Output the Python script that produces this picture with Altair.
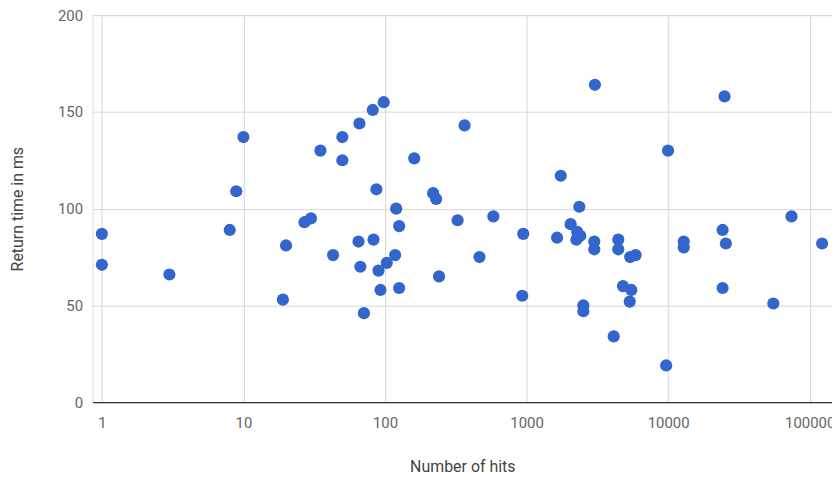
import altair as alt
import pandas as pd

hits = [1, 1, 3, 8, 8.9, 10,
        19, 20, 27, 30, 35, 43, 50, 50,
        65, 66, 67, 71, 82, 83, 87, 90, 93, 98, 103, 118, 120, 126, 126, 161,
        219, 230, 241, 326, 365, 465, 583, 933, 948,
        1644, 1745, 2050, 2280, 2400, 2250, 2360, 2520, 2520, 3010, 3010, 3040,
        4130, 4450, 4450, 4800, 5360, 5400, 5500, 5900,
        9700, 10000, 12900, 12900, 24270, 24270, 25060, 25600, 55400, 74500, 122500]
ms = [87, 71, 66, 89, 109, 137,
      53, 81, 93, 95, 130, 76, 137, 125,
      83, 144, 70, 46, 151, 84, 110, 68, 58, 155, 72, 76, 100, 91, 59, 126,
      108, 105, 65, 94, 143, 75, 96, 55, 87,
      85, 117, 92, 88, 86, 84, 101, 50, 47, 83, 79, 164,
      34, 84, 79, 60, 52, 75, 58, 76,
      19, 130, 83, 80, 89, 59, 158, 82, 51, 96, 82]

x_ticks = [1, 10, 100, 1000, 10000, 100000]
y_ticks = [0, 50, 100, 150, 200]

df = pd.DataFrame({"hits": hits, "ms": ms})

W, H = 743, 389

chart = alt.Chart(df).mark_circle(size=150, opacity=1, color="#3366cc").encode(
    x=alt.X("hits:Q",
            scale=alt.Scale(type="log", domain=[0.86, 143900], nice=False, zero=False),
            axis=alt.Axis(title="Number of hits", values=x_ticks, format="d",
                          grid=True, gridColor="#d6d6d6", ticks=False, tickSize=0,
                          domain=True, domainColor="#333333", domainWidth=1.3,
                          labelFont="Roboto", labelFontSize=15, labelColor="#666666",
                          labelPadding=20, labelBaseline="middle", labelFlush=False,
                          titleFont="Roboto", titleFontSize=16, titleFontWeight="normal",
                          titleColor="#444444", titleX=W / 2, titleY=65,
                          titleBaseline="middle", titleAlign="center")),
    y=alt.Y("ms:Q",
            scale=alt.Scale(domain=[0, 200], nice=False),
            axis=alt.Axis(title="Return time in ms", values=y_ticks,
                          grid=True, gridColor="#d6d6d6", ticks=False, tickSize=0,
                          domain=False,
                          labelFont="Roboto", labelFontSize=15, labelColor="#666666",
                          labelPadding=10, labelBaseline="middle", labelFlush=False,
                          titleFont="Roboto", titleFontSize=16, titleFontWeight="normal",
                          titleColor="#444444", titleX=-75, titleY=H / 2,
                          titleAngle=-90, titleBaseline="middle", titleAlign="center")),
).properties(
    width=W, height=H,
    autosize=alt.AutoSizeParams(type="none"),
    padding={"left": 85, "top": 6, "right": 0, "bottom": 72},
).configure_view(stroke=None).configure(background="white")

chart.save("out.html", embed_options={"renderer": "svg", "actions": False})
